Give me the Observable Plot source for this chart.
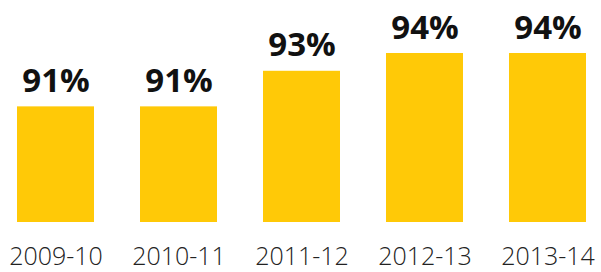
<!DOCTYPE html>
<html>
<head>
<meta charset="utf-8">
<script src="https://cdn.jsdelivr.net/npm/d3@7"></script>
<script src="https://cdn.jsdelivr.net/npm/@observablehq/plot@0.6"></script>
<style>
  html, body { margin: 0; padding: 0; background: #fff; }
  #chart svg { display: block; }
</style>
</head>
<body>
<div id="chart"></div>
<script>
const years = ["2009-10", "2010-11", "2011-12", "2012-13", "2013-14"];
const values = [91, 91, 93, 94, 94];
const labels = ["91%", "91%", "93%", "94%", "94%"];

const data = years.map((year, i) => ({year, value: values[i], label: labels[i]}));

const chart = Plot.plot({
  width: 601,
  height: 272,
  marginLeft: 15,
  marginRight: 13,
  marginTop: 53,
  marginBottom: 50,
  style: {fontFamily: "'Open Sans', sans-serif", background: "#fff"},
  x: {domain: years, paddingInner: 0.37, paddingOuter: 0, label: null},
  y: {domain: [84.5, 94], clamp: true, axis: null},
  marks: [
    Plot.barY(data, {x: "year", y: "value", fill: "#ffc907"}),
    Plot.text(data, {
      x: "year", y: "value", text: "label",
      lineAnchor: "bottom", dy: -15,
      fontSize: 33, fontWeight: "bold", fill: "#111"
    }),
    Plot.axisX({tickSize: 0, tickPadding: 25, fontSize: 25, fontWeight: 300, fill: "#222", label: null})
  ]
});
document.getElementById("chart").append(chart);
</script>
</body>
</html>
